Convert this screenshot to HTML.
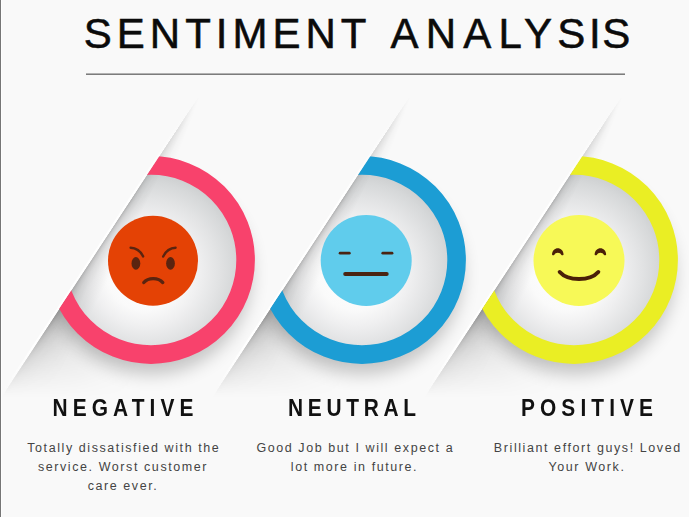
<!DOCTYPE html>
<html lang="en">
<head>
<meta charset="utf-8">
<title>Sentiment Analysis</title>
<style>
  html, body { margin: 0; padding: 0; }
  body {
    width: 689px; height: 517px; overflow: hidden; position: relative;
    background: #f9f9f9;
    font-family: "Liberation Sans", Arial, sans-serif;
  }
  svg.layer { position: absolute; left: 0; top: 0; width: 689px; height: 517px; display: block; }
  .edge { position: absolute; left: 0; top: 0; width: 2px; height: 517px;
          background: linear-gradient(to right, #767676 0, #767676 1px, #fefefe 1px, #fefefe 2px); }

  /* shadows thrown by the raised panel edge; they fan out from the top of the fold */
  .fold, .foldwide, .foldtop {
    position: absolute; top: 0; width: 330px; height: 517px;
    clip-path: polygon(291.8px 90px, 330px 90px, 330px 517px, 11.7px 517px);
  }
  .fold {
    background: conic-gradient(from 190deg at 291.8px 90px,
        rgba(0,0,0,0) 0deg,
        rgba(0,0,0,0) 16.5deg,
        rgba(0,0,0,0.045) 19.8deg,
        rgba(0,0,0,0.095) 21.6deg,
        rgba(0,0,0,0.15) 22.5deg,
        rgba(0,0,0,0.21) 23.0deg,
        rgba(0,0,0,0.27) 23.27deg,
        rgba(0,0,0,0) 23.3deg,
        rgba(0,0,0,0) 360deg);
    -webkit-mask-image: linear-gradient(to bottom, transparent 100px, rgba(0,0,0,.18) 130px, rgba(0,0,0,.5) 165px, #000 200px, #000 318px, rgba(0,0,0,.42) 355px, transparent 394px);
            mask-image: linear-gradient(to bottom, transparent 100px, rgba(0,0,0,.18) 130px, rgba(0,0,0,.5) 165px, #000 200px, #000 318px, rgba(0,0,0,.42) 355px, transparent 394px);
  }
  .foldwide {
    background: conic-gradient(from 190deg at 291.8px 90px,
        rgba(0,0,0,0) 0deg,
        rgba(0,0,0,0) 3deg,
        rgba(0,0,0,0.04) 8deg,
        rgba(0,0,0,0.085) 13deg,
        rgba(0,0,0,0.115) 18deg,
        rgba(0,0,0,0.135) 23.27deg,
        rgba(0,0,0,0) 23.3deg,
        rgba(0,0,0,0) 360deg);
    -webkit-mask-image: linear-gradient(to bottom, transparent 250px, #000 300px, #000 328px, rgba(0,0,0,.5) 362px, transparent 398px);
            mask-image: linear-gradient(to bottom, transparent 250px, #000 300px, #000 328px, rgba(0,0,0,.5) 362px, transparent 398px);
  }
  .foldtop {
    background: conic-gradient(from 190deg at 291.8px 90px,
        rgba(0,0,0,0) 0deg,
        rgba(0,0,0,0) 11deg,
        rgba(0,0,0,0.02) 16deg,
        rgba(0,0,0,0.05) 20deg,
        rgba(0,0,0,0.075) 23.27deg,
        rgba(0,0,0,0) 23.3deg,
        rgba(0,0,0,0) 360deg);
    -webkit-mask-image: linear-gradient(to bottom, transparent 95px, #000 128px, #000 175px, transparent 205px);
            mask-image: linear-gradient(to bottom, transparent 95px, #000 128px, #000 175px, transparent 205px);
  }
  /* thin highlight on the lip of the raised panel */
  .lip {
    position: absolute; top: 0; width: 330px; height: 517px;
    background: #fff;
    clip-path: polygon(289.2px 90px, 291.8px 90px, 11.7px 517px, 9.1px 517px);
    -webkit-mask-image: linear-gradient(to bottom, transparent 110px, rgba(0,0,0,.5) 160px, #000 200px, #000 345px, transparent 392px);
            mask-image: linear-gradient(to bottom, transparent 110px, rgba(0,0,0,.5) 160px, #000 200px, #000 345px, transparent 392px);
  }

  h1 {
    position: absolute; margin: 0; left: 0; top: 10px; width: 689px; height: 48px;
    font-size: 42px; line-height: 48px; font-weight: 400; color: #0b0b0b; -webkit-text-stroke: 0.55px #0b0b0b;
    letter-spacing: 5px; white-space: nowrap;
  }
  h1 .w1 { position: absolute; left: 83.8px; top: 0; }
  h1 .w2 { position: absolute; left: 390.5px; top: 0; letter-spacing: 5.23px; }
  .rule { position: absolute; left: 86px; top: 73px; width: 539px; height: 2px; background: linear-gradient(to bottom, #b2b2b2 0, #b2b2b2 1px, #7c7c7c 1px, #7c7c7c 2px); }
  .label {
    position: absolute; top: 394px; width: 260px; margin: 0;
    font-size: 24px; line-height: 28px; font-weight: 700; color: #111;
    letter-spacing: 5.86px; text-indent: 5.86px; text-align: center; white-space: nowrap;
    transform: scaleX(0.87); transform-origin: 50% 0;
  }
  .desc {
    position: absolute; top: 438.6px; width: 260px; margin: 0;
    font-size: 12.5px; line-height: 19.35px; color: #444;
    letter-spacing: 1.58px; text-indent: 1.58px; text-align: center; white-space: nowrap;
  }
</style>
</head>
<body>

<!-- layer 0 : broad shadows on the lower surface -->
<div class="foldwide" style="left:-89px"></div>
<div class="foldwide" style="left:122px"></div>
<div class="foldwide" style="left:334px"></div>
<div class="foldtop" style="left:-89px"></div>
<div class="foldtop" style="left:122px"></div>
<div class="foldtop" style="left:334px"></div>

<!-- layer 1 : ring drop shadows and recessed dishes -->
<svg class="layer" viewBox="0 0 689 517" width="689" height="517">
  <defs>
    <radialGradient id="dish" gradientUnits="userSpaceOnUse" cx="-3" cy="9" r="98" fx="-10" fy="15">
      <stop offset="0" stop-color="#ffffff"/>
      <stop offset="0.38" stop-color="#fafafa"/>
      <stop offset="0.56" stop-color="#efeff0"/>
      <stop offset="0.74" stop-color="#e2e3e4"/>
      <stop offset="0.89" stop-color="#d6d8d9"/>
      <stop offset="1" stop-color="#cbcdce"/>
    </radialGradient>
    <filter id="blur8" x="-50%" y="-50%" width="200%" height="200%">
      <feGaussianBlur stdDeviation="9"/>
    </filter>
    <!-- everything to the lower-right of the fold, in item-local coordinates (origin = ring centre) -->
    <clipPath id="cut">
      <polygon points="51.8,-170 400,-170 400,260 -230.3,260"/>
    </clipPath>
    <g id="base" clip-path="url(#cut)">
      <circle cx="0" cy="14" r="100" fill="#000" opacity="0.22" filter="url(#blur8)"/>
      <circle cx="0" cy="0" r="90" fill="url(#dish)"/>
    </g>
  </defs>
  <use href="#base" transform="translate(151,260)"/>
  <use href="#base" transform="translate(362,260)"/>
  <use href="#base" transform="translate(574,260)"/>
</svg>

<!-- layer 2 : fold shadows -->
<div class="fold" style="left:-89px"></div>
<div class="fold" style="left:122px"></div>
<div class="fold" style="left:334px"></div>
<div class="lip" style="left:-89px"></div>
<div class="lip" style="left:122px"></div>
<div class="lip" style="left:334px"></div>

<!-- layer 3 : rings and faces -->
<svg class="layer" viewBox="0 0 689 517" width="689" height="517">
  <defs>
    <clipPath id="cut2">
      <polygon points="51.8,-170 400,-170 400,260 -230.3,260"/>
    </clipPath>
  </defs>

  <!-- NEGATIVE -->
  <g transform="translate(151,260)">
    <g clip-path="url(#cut2)">
      <circle cx="0" cy="0" r="94.6" fill="none" stroke="#f8426c" stroke-width="18.6"/>
    </g>
    <g transform="translate(2,0.7)">
      <circle cx="0" cy="0" r="45" fill="#e44205"/>
      <g fill="none" stroke="#5a2410" stroke-width="2.4" stroke-linecap="round">
        <path d="M-22.4,-12.9 Q-14,-12.6 -9.9,-4.3"/>
        <path d="M22.6,-12.9 Q14.2,-12.6 10.2,-4.1"/>
        <path d="M-9.2,21.9 C-5,16.6 5.4,16.6 9.8,21.9" stroke-width="3.3"/>
      </g>
      <ellipse cx="-17.1" cy="2.7" rx="4.4" ry="6.3" fill="#5a2410"/>
      <ellipse cx="17.5" cy="2.7" rx="4.4" ry="6.3" fill="#5a2410"/>
    </g>
  </g>

  <!-- NEUTRAL -->
  <g transform="translate(362,260)">
    <g clip-path="url(#cut2)">
      <circle cx="0" cy="0" r="94.6" fill="none" stroke="#1c9dd4" stroke-width="18.6"/>
    </g>
    <g transform="translate(4.2,0.4)">
      <circle cx="0" cy="0" r="45.5" fill="#60ccec"/>
      <g fill="none" stroke="#4a2412" stroke-linecap="round">
        <path d="M-26.1,-7.2 H-16.9" stroke-width="2.8"/>
        <path d="M16.6,-7.2 H25.8" stroke-width="2.8"/>
        <path d="M-21,13.6 H20.5" stroke-width="4"/>
      </g>
    </g>
  </g>

  <!-- POSITIVE -->
  <g transform="translate(574,260)">
    <g clip-path="url(#cut2)">
      <circle cx="0" cy="0" r="94.6" fill="none" stroke="#eaee24" stroke-width="18.6"/>
    </g>
    <g transform="translate(5,0.4)">
      <circle cx="0" cy="0" r="45.5" fill="#f7f957"/>
      <path d="M-19.3,11.6 C-11,20.9 11,20.9 19.3,11.6" fill="none" stroke="#4a2008" stroke-width="4" stroke-linecap="round"/>
      <g fill="#4a2008">
        <path transform="translate(-21.2,-5.9)" d="M-5.75,0.3 C-5.75,-8.5 5.75,-8.5 5.75,0.3 Q4.6,1.4 3.4,0.3 C2.7,-2.5 -2.7,-2.5 -3.4,0.3 Q-4.6,1.4 -5.75,0.3 Z"/>
        <path transform="translate(21.4,-5.9)" d="M-5.75,0.3 C-5.75,-8.5 5.75,-8.5 5.75,0.3 Q4.6,1.4 3.4,0.3 C2.7,-2.5 -2.7,-2.5 -3.4,0.3 Q-4.6,1.4 -5.75,0.3 Z"/>
      </g>
    </g>
  </g>
</svg>

<div class="edge"></div>

<h1><span class="w1">SENTIMENT</span> <span class="w2"><span style="letter-spacing:7.2px">ANA</span>LY<span style="letter-spacing:3.8px">S</span><span style="letter-spacing:1.6px">I</span>S</span></h1>
<div class="rule"></div>

<p class="label" style="left:-7px">NEGATIVE</p>
<p class="label" style="left:221.5px;letter-spacing:5.4px;text-indent:5.4px">NEUTRAL</p>
<p class="label" style="left:457px">POSITIVE</p>

<p class="desc" style="left:-7px">Totally dissatisfied with the<br>service. Worst customer<br>care ever.</p>
<p class="desc" style="left:224.5px">Good Job but I will expect a<br>lot more in future.</p>
<p class="desc" style="left:457px">Brilliant effort guys! Loved<br>Your Work.</p>
</body>
</html>
